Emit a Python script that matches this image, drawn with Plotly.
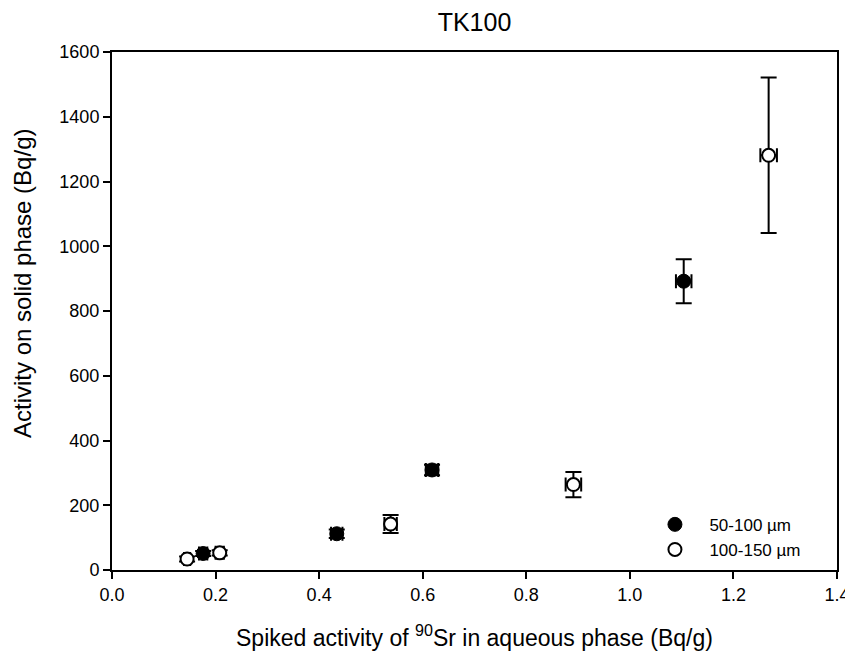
import plotly.graph_objects as go

# 50-100 µm (filled)
x_fine = [0.176, 0.434, 0.618, 1.104]
y_fine = [51, 112, 309, 892]
xerr_fine = [0.008, 0.011, 0.012, 0.015]
yerr_fine = [8, 13, 16, 68]

# 100-150 µm (open)
x_coarse = [0.145, 0.208, 0.538, 0.891, 1.268]
y_coarse = [34, 53, 142, 264, 1281]
xerr_coarse = [0.006, 0.008, 0.012, 0.015, 0.016]
yerr_coarse = [8, 8, 28, 39, 240]

x_ticks = [0.0, 0.2, 0.4, 0.6, 0.8, 1.0, 1.2, 1.4]
y_ticks = [0, 200, 400, 600, 800, 1000, 1200, 1400, 1600]

FONT = "Liberation Sans, Arial, sans-serif"

fig = go.Figure()
fig.add_trace(go.Scatter(
    x=x_fine, y=y_fine, mode="markers", name="\u00a0\u00a050-100 µm",
    marker=dict(symbol="circle", size=14, color="black", line=dict(color="black", width=1)),
    error_y=dict(type="data", array=yerr_fine, color="black", thickness=2, width=8),
    error_x=dict(type="data", array=xerr_fine, color="black", thickness=2, width=7),
))
fig.add_trace(go.Scatter(
    x=x_coarse, y=y_coarse, mode="markers", name="\u00a0\u00a0100-150 µm",
    marker=dict(symbol="circle", size=13, color="white", line=dict(color="black", width=2)),
    error_y=dict(type="data", array=yerr_coarse, color="black", thickness=2, width=8),
    error_x=dict(type="data", array=xerr_coarse, color="black", thickness=2, width=7),
))

W, H = 845, 645
L, R, T, B = 104, 16, 44, 83
plot_bottom = H - B  # figure px

fig.update_layout(
    width=W, height=H,
    paper_bgcolor="white", plot_bgcolor="white",
    margin=dict(l=L, r=R, t=T, b=B, autoexpand=False),
    font=dict(family=FONT, size=18, color="black"),
    title=dict(text="TK100", x=0.5, xref="paper", y=1 - 14 / H, yref="container",
               xanchor="center", yanchor="middle", font=dict(size=25, family=FONT)),
    showlegend=True,
    legend=dict(x=0.742, y=0.122, xanchor="left", yanchor="top",
                bgcolor="rgba(0,0,0,0)", font=dict(size=17, family=FONT),
                itemwidth=40, tracegroupgap=0),
    xaxis=dict(range=[0, 1.4], tickvals=x_ticks, ticktext=[f"{v:.1f}" for v in x_ticks],
               showgrid=False, zeroline=False, showline=True, linecolor="black", linewidth=2,
               mirror=True, ticks="outside", ticklen=7, tickwidth=1.5, tickcolor="black",
               tickfont=dict(size=18), automargin=False),
    yaxis=dict(range=[0, 1600], tickvals=y_ticks,
               showgrid=False, zeroline=False, showline=True, linecolor="black", linewidth=2,
               mirror=True, ticks="outside", ticklen=7, tickwidth=1.5, tickcolor="black",
               tickfont=dict(size=18), automargin=False),
    annotations=[
        dict(text="Spiked activity of <sup>90</sup>Sr in aqueous phase (Bq/g)",
             xref="paper", yref="paper", x=0.5, y=-(628 - plot_bottom) / (H - T - B),
             xanchor="center", yanchor="middle", showarrow=False, font=dict(size=23)),
        dict(text="Activity on solid phase (Bq/g)", textangle=-90,
             xref="paper", yref="paper", x=(14 - L) / (W - L - R),
             y=(plot_bottom - 276) / (H - T - B),
             xanchor="center", yanchor="middle", showarrow=False, font=dict(size=24)),
    ],
)

fig.write_html("out.html")
